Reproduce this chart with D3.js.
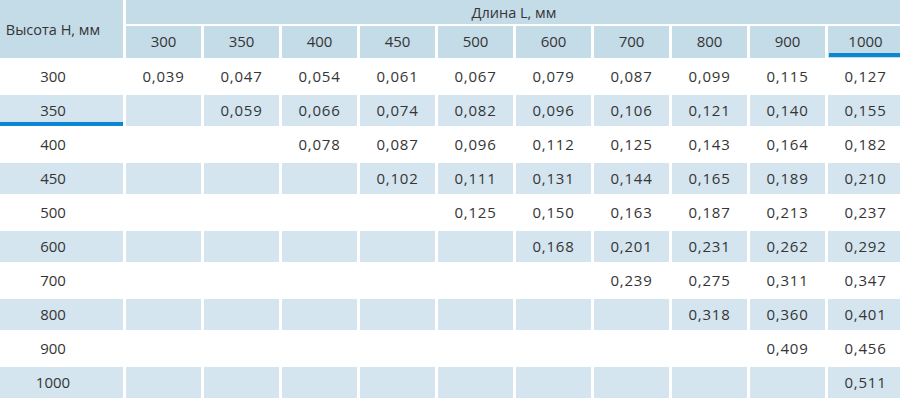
<!DOCTYPE html>
<html>
<head>
<meta charset="utf-8">
<script src="https://cdn.jsdelivr.net/npm/d3@7"></script>
<style>
  body { margin: 0; background: #fff; }
  svg { display: block; font-family: "Open Sans", sans-serif; }
</style>
</head>
<body>
<svg id="table" width="900" height="405"></svg>
<script>
// column headers (length L) and row headers (height H)
let lengths = [300, 350, 400, 450, 500, 600, 700, 800, 900, 1000]
let heights = [300, 350, 400, 450, 500, 600, 700, 800, 900, 1000]

// values per row, null where the table cell is empty
let row300  = [0.039, 0.047, 0.054, 0.061, 0.067, 0.079, 0.087, 0.099, 0.115, 0.127]
let row350  = [null, 0.059, 0.066, 0.074, 0.082, 0.096, 0.106, 0.121, 0.140, 0.155]
let row400  = [null, null, 0.078, 0.087, 0.096, 0.112, 0.125, 0.143, 0.164, 0.182]
let row450  = [null, null, null, 0.102, 0.111, 0.131, 0.144, 0.165, 0.189, 0.210]
let row500  = [null, null, null, null, 0.125, 0.150, 0.163, 0.187, 0.213, 0.237]
let row600  = [null, null, null, null, null, 0.168, 0.201, 0.231, 0.262, 0.292]
let row700  = [null, null, null, null, null, null, 0.239, 0.275, 0.311, 0.347]
let row800  = [null, null, null, null, null, null, null, 0.318, 0.360, 0.401]
let row900  = [null, null, null, null, null, null, null, null, 0.409, 0.456]
let row1000 = [null, null, null, null, null, null, null, null, null, 0.511]

let rowLabel = "Высота H, мм"
let colLabel = "Длина L, мм"

let values = [row300, row350, row400, row450, row500, row600, row700, row800, row900, row1000]

//======================= SET UP ===========================
let svg = d3.select("#table"),
    headColor = "#c4dbe8",
    cellColor = "#d4e5ef",
    blue = "#0a86d3",
    textColor = "#353535",
    fmt = d3.formatLocale({decimal: ",", thousands: " ", grouping: [3], currency: ["", ""]}).format(".3f")

svg.append("rect").attr("width", 900).attr("height", 405).attr("fill", "#fff")

let x = d3.scaleBand().domain(lengths).range([126, 903]).paddingInner(0.0385)
let y = d3.scaleBand().domain(heights).range([59.5, 399.5]).paddingInner(0.09).paddingOuter(0.045)

//======================= HEADER ===========================
svg.append("rect").attr("x", 0).attr("y", 0).attr("width", 123).attr("height", 58).attr("fill", headColor)
svg.append("text")
  .attr("x", 53).attr("y", 30).attr("dy", "0.35em")
  .attr("text-anchor", "middle").attr("font-size", 14.5).attr("fill", textColor)
  .text(rowLabel)

svg.append("rect").attr("x", 126).attr("y", 0).attr("width", 777).attr("height", 24).attr("fill", headColor)
svg.append("text")
  .attr("x", 514).attr("y", 13).attr("dy", "0.35em")
  .attr("text-anchor", "middle").attr("font-size", 14.5).attr("fill", textColor)
  .text(colLabel)

let head = svg.selectAll(".colhead")
  .data(lengths)
  .enter().append("g")
    .attr("class", "colhead")

head.append("rect")
  .attr("x", function(d) { return x(d) })
  .attr("y", 26).attr("height", 32)
  .attr("width", x.bandwidth())
  .attr("fill", headColor)

head.append("text")
  .attr("x", function(d) { return x(d) + x.bandwidth() / 2 })
  .attr("y", 42).attr("dy", "0.35em")
  .attr("text-anchor", "middle").attr("font-size", 15).attr("fill", textColor)
  .text(function(d) { return d })

// blue marker under the last column header
svg.append("rect")
  .attr("x", x(1000) + 1).attr("y", 53).attr("width", x.bandwidth()).attr("height", 4)
  .attr("fill", blue)

//======================= ROWS ===========================
let rows = svg.selectAll(".row")
  .data(heights)
  .enter().append("g")
    .attr("class", "row")

// every second row is shaded, cell by cell
rows.filter(function(d, i) { return i % 2 == 1 })
  .each(function(h) {
    let g = d3.select(this)
    g.append("rect")
      .attr("x", 0).attr("y", y(h)).attr("width", 123).attr("height", y.bandwidth())
      .attr("fill", cellColor)
    g.selectAll(".cell")
      .data(lengths)
      .enter().append("rect")
        .attr("class", "cell")
        .attr("x", function(d) { return x(d) })
        .attr("y", y(h))
        .attr("width", x.bandwidth())
        .attr("height", y.bandwidth())
        .attr("fill", cellColor)
  })

rows.append("text")
  .attr("x", 53)
  .attr("y", function(d) { return y(d) + y.bandwidth() / 2 })
  .attr("dy", "0.35em")
  .attr("text-anchor", "middle").attr("font-size", 15).attr("fill", textColor)
  .text(function(d) { return d })

rows.each(function(h, i) {
  d3.select(this).selectAll(".val")
    .data(values[i].map(function(v, j) { return {L: lengths[j], v: v} }).filter(function(d) { return d.v != null }))
    .enter().append("text")
      .attr("class", "val")
      .attr("x", function(d) { return x(d.L) + x.bandwidth() / 2 })
      .attr("y", y(h) + y.bandwidth() / 2)
      .attr("dy", "0.35em")
      .attr("text-anchor", "middle").attr("font-size", 15).attr("fill", textColor)
      .attr("letter-spacing", 0.8)
      .text(function(d) { return fmt(d.v) })
})

// blue marker under the 350 row label
svg.append("rect")
  .attr("x", 0).attr("y", y(350) + y.bandwidth() - 4).attr("width", 123).attr("height", 4)
  .attr("fill", blue)
</script>
</body>
</html>
